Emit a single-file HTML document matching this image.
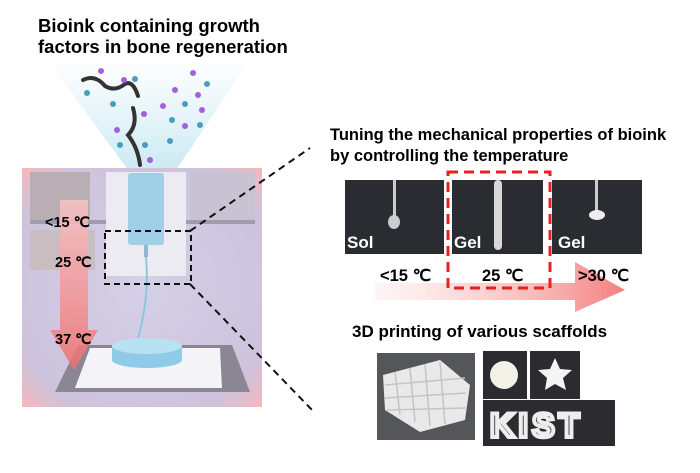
<!DOCTYPE html>
<html><head><meta charset="utf-8"><style>
body{margin:0;background:#fff;width:700px;height:473px;overflow:hidden}
svg{display:block;font-family:"Liberation Sans",sans-serif;font-weight:bold}
</style></head><body>
<svg width="700" height="473" viewBox="0 0 700 473">
<defs>
<linearGradient id="cone" x1="0" y1="0" x2="0" y2="1"><stop offset="0" stop-color="#fff"/><stop offset="1" stop-color="#cdeaf3"/></linearGradient>
<linearGradient id="ra" x1="0" y1="0" x2="1" y2="0"><stop offset="0" stop-color="#ffd6d6" stop-opacity=".3"/><stop offset="1" stop-color="#f26a6a"/></linearGradient>
<linearGradient id="rv" x1="0" y1="0" x2="0" y2="1"><stop offset="0" stop-color="#f8c4c4"/><stop offset="1" stop-color="#ef6f6f"/></linearGradient>
<radialGradient id="room" cx=".5" cy=".5" r=".7"><stop offset="0" stop-color="#d4d0e6"/><stop offset=".8" stop-color="#cdc3dc"/><stop offset="1" stop-color="#f3b8bd"/></radialGradient>
</defs>
<text x="38" y="32" font-size="18.5">Bioink containing growth</text>
<text x="38" y="53" font-size="18.5">factors in bone regeneration</text>
<polygon points="48,60 250,60 176,170 128,170" fill="url(#cone)"/>
<g stroke="#333" stroke-width="4" fill="none" stroke-linecap="round">
<path d="M83,80 Q95,74 105,86 Q115,92 125,84 Q133,80 138,96"/>
<path d="M133,108 Q138,125 128,135 Q138,148 140,165"/>
</g>
<g fill="#a45ee0"><circle cx="101" cy="71" r="3"/><circle cx="124" cy="80" r="3"/><circle cx="193" cy="73" r="3"/><circle cx="175" cy="90" r="3"/><circle cx="198" cy="95" r="3"/><circle cx="163" cy="106" r="3"/><circle cx="144" cy="114" r="3"/><circle cx="202" cy="110" r="3"/><circle cx="185" cy="126" r="3"/><circle cx="117" cy="130" r="3"/><circle cx="150" cy="160" r="3"/></g>
<g fill="#4a9dbd"><circle cx="135" cy="79" r="3"/><circle cx="87" cy="93" r="3"/><circle cx="207" cy="84" r="3"/><circle cx="185" cy="104" r="3"/><circle cx="113" cy="104" r="3"/><circle cx="172" cy="120" r="3"/><circle cx="200" cy="125" r="3"/><circle cx="120" cy="145" r="3"/><circle cx="145" cy="145" r="3"/><circle cx="170" cy="141" r="3"/></g>
<rect x="22" y="168" width="240" height="239" fill="url(#room)"/>
<rect x="30" y="172" width="60" height="50" fill="#b9aeb3"/>
<rect x="30" y="230" width="65" height="40" fill="#c9bdc2"/>
<rect x="190" y="172" width="65" height="50" fill="#c7c3d2"/>
<rect x="30" y="220" width="225" height="4" fill="#a19bb0"/>
<rect x="106" y="172" width="80" height="104" fill="#ecebf2"/>
<rect x="128" y="173" width="36" height="72" rx="3" fill="#9fd0e8"/>
<rect x="144" y="245" width="4" height="12" fill="#8fb9cf"/>
<path d="M146,257 Q150,300 136,345" stroke="#8ac8e2" stroke-width="2" fill="none"/>
<polygon points="78,345 232,345 250,392 55,392" fill="#8a8694"/>
<polygon points="90,348 220,348 222,388 75,388" fill="#f4f3f8"/>
<rect x="112" y="346" width="70" height="14" fill="#8fcbe8"/>
<ellipse cx="147" cy="360" rx="35" ry="8" fill="#8fcbe8"/>
<ellipse cx="147" cy="346" rx="35" ry="8" fill="#b7e2f4"/>
<polygon points="60,200 88,200 88,330 98,330 74,370 50,330 60,330" fill="url(#rv)" opacity=".85"/>
<text x="45" y="227" font-size="14.5">&lt;15 ℃</text>
<text x="55" y="267" font-size="14.5">25 ℃</text>
<text x="55" y="344" font-size="14.5">37 ℃</text>
<rect x="105" y="231" width="86" height="53" fill="none" stroke="#111" stroke-width="2" stroke-dasharray="6,4"/>
<line x1="190" y1="231" x2="310" y2="148" stroke="#111" stroke-width="2" stroke-dasharray="7,5"/>
<line x1="190" y1="284" x2="315" y2="413" stroke="#111" stroke-width="2" stroke-dasharray="7,5"/>
<text x="330" y="140" font-size="16.5">Tuning the mechanical properties of bioink</text>
<text x="330" y="161" font-size="16.5">by controlling the temperature</text>
<rect x="345" y="180" width="99" height="74" fill="#2b2c31"/>
<rect x="452" y="180" width="91" height="74" fill="#2b2c31"/>
<rect x="552" y="180" width="90" height="74" fill="#2b2c31"/>
<rect x="393" y="180" width="3" height="38" fill="#ccc"/><ellipse cx="394" cy="222" rx="6" ry="7" fill="#c9ccd0"/>
<rect x="494" y="180" width="8" height="70" rx="4" fill="#d8d8d8"/>
<rect x="595" y="180" width="3" height="35" fill="#ccc"/><ellipse cx="597" cy="215" rx="8" ry="5" fill="#eee"/>
<g fill="#fff" font-size="17"><text x="347" y="248">Sol</text><text x="454" y="248">Gel</text><text x="558" y="248">Gel</text></g>
<polygon points="375,283 575,283 575,262 625,290 575,312 575,300 375,300" fill="url(#ra)" opacity=".85"/>
<rect x="448" y="172" width="102" height="116" fill="none" stroke="#e8211c" stroke-width="3" stroke-dasharray="10,6"/>
<g font-size="16.5"><text x="380" y="281">&lt;15 ℃</text><text x="482" y="281">25 ℃</text><text x="578" y="281">&gt;30 ℃</text></g>
<text x="352" y="337" font-size="17">3D printing of various scaffolds</text>
<rect x="377" y="353" width="98" height="87" fill="#55565a"/>
<polygon points="383,375 440,360 470,385 465,420 420,432 385,410" fill="#e9e9ea"/>
<g stroke="#c4c4c8" stroke-width="1.5"><line x1="395" y1="372" x2="400" y2="415"/><line x1="410" y1="368" x2="415" y2="422"/><line x1="425" y1="364" x2="430" y2="426"/><line x1="440" y1="362" x2="445" y2="424"/><line x1="385" y1="385" x2="465" y2="378"/><line x1="385" y1="398" x2="466" y2="393"/><line x1="387" y1="410" x2="466" y2="408"/></g>
<rect x="483" y="351" width="44" height="48" fill="#2c2c30"/><circle cx="504" cy="375" r="14" fill="#f3f0e8"/>
<rect x="530" y="351" width="50" height="48" fill="#2c2c30"/>
<polygon points="555,358 560,369 572,370 563,378 566,390 555,384 545,390 547,378 538,370 550,369" fill="#f4f4f4"/>
<rect x="483" y="400" width="132" height="46" fill="#2c2c30"/>
<text x="490" y="437" font-size="34" fill="none" stroke="#eee" stroke-width="4" letter-spacing="4">KIST</text>
</svg>
</body></html>
